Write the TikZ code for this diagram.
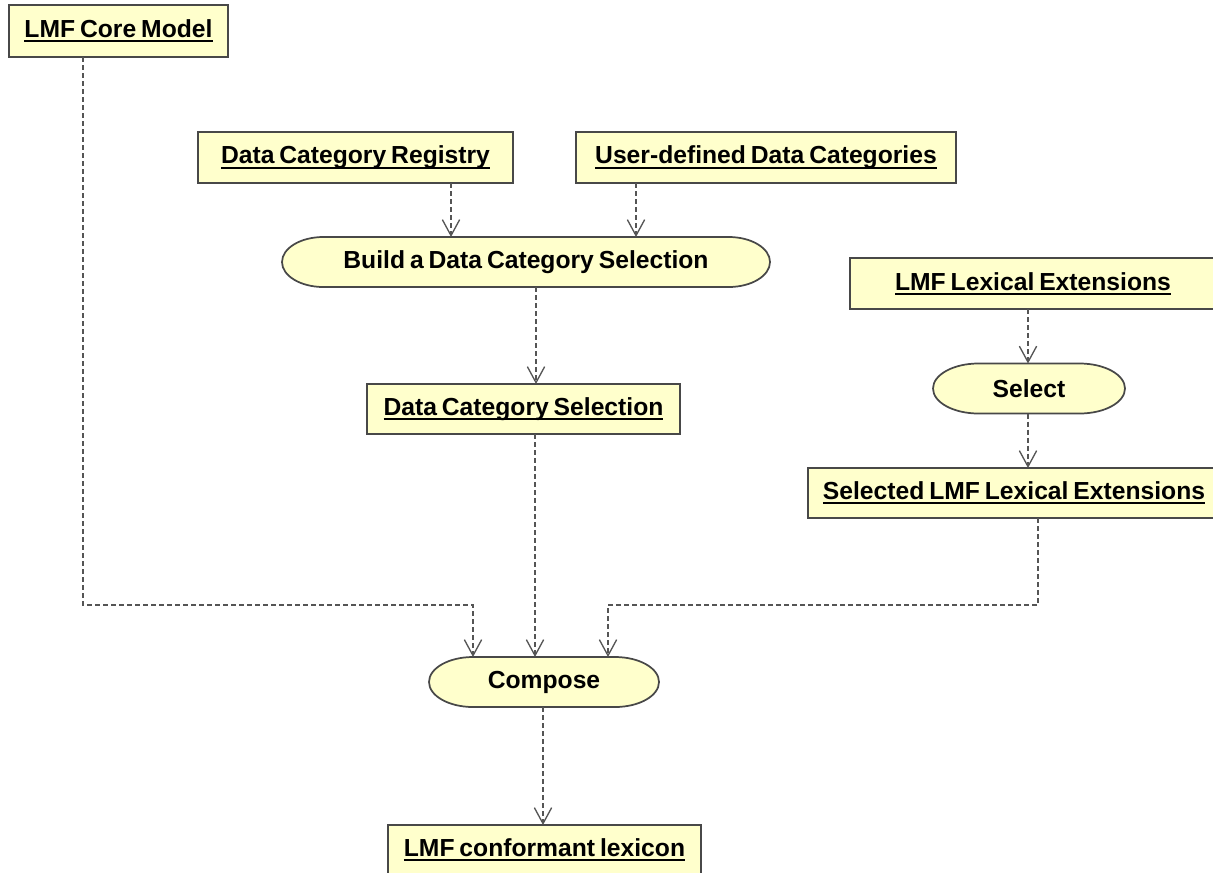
\documentclass[tikz,border=0pt]{standalone}
\usepackage{fontspec}
\setmainfont{Liberation Sans}
\usetikzlibrary{arrows.meta,calc,backgrounds}

\definecolor{boxfill}{RGB}{255,255,204}
\definecolor{boxline}{RGB}{72,72,72}
\definecolor{flowline}{RGB}{85,85,85}

% underlined bold label, as used for object boxes
\newcommand\objlabel[1]{\setbox0\hbox{#1}\rlap{\rule[-3.6pt]{\wd0}{1.5pt}}\box0}
\newcommand\tightspace{\spaceskip=0.2em\relax}

% rounded activity outline behind a node: name, end radius
\newcommand\actoutline[2]{%
  \begin{pgfonlayer}{background}
    \draw[actline] ([xshift=#2]#1.north west) -- ([xshift=-#2]#1.north east)
      arc[start angle=90,end angle=-90,x radius=#2,y radius=18.75pt]
      -- ([xshift=#2]#1.south west)
      arc[start angle=270,end angle=90,x radius=#2,y radius=18.75pt] -- cycle;
  \end{pgfonlayer}}

\tikzset{
  lbl/.style={font=\bfseries\fontsize{18.5}{21}\selectfont, text=black,
    execute at begin node=\tightspace},
  objbox/.style={lbl, draw=boxline, line width=1.3pt, fill=boxfill,
    rectangle, inner sep=0pt, outer sep=0pt, minimum height=38pt},
  actnode/.style={lbl, draw=none, rectangle, inner sep=0pt, outer sep=0pt,
    minimum height=37.5pt},
  actline/.style={draw=boxline, line width=1.3pt, fill=boxfill},
  flow/.style={draw=flowline, line width=1pt, dash pattern=on 3.75pt off 2.25pt,
    -{Straight Barb[length=12pt,width=13pt,line width=1pt]}},
}

\begin{document}
\begin{tikzpicture}[x=0.75pt,y=0.75pt]
\useasboundingbox (0,0) rectangle (1213,-872);
\clip (0,0) rectangle (1213,-872);

% object boxes
\node[objbox, minimum width=219*0.75pt, minimum height=52*0.75pt] (core) at (118.5,-31) {\objlabel{LMF Core Model}};
\node[objbox, minimum width=315*0.75pt, minimum height=51*0.75pt] (dcr) at (355.5,-157.5) {\objlabel{Data Category Registry}};
\node[objbox, minimum width=380*0.75pt, minimum height=51*0.75pt] (udc) at (766,-157.5) {\objlabel{User-defined Data Categories}};
\node[objbox, minimum width=313*0.75pt, minimum height=50*0.75pt] (dcs) at (523.5,-409) {\objlabel{Data Category Selection}};
\node[objbox, minimum width=366*0.75pt, minimum height=51*0.75pt] (lex) at (1033,-283.5) {\objlabel{LMF Lexical Extensions}};
\node[objbox, minimum width=412*0.75pt, minimum height=50*0.75pt] (sel) at (1014,-493) {\objlabel{Selected LMF Lexical Extensions}};
\node[objbox, minimum width=313*0.75pt, minimum height=50*0.75pt] (lexicon) at (544.5,-850) {\objlabel{LMF conformant lexicon}};

% activities
\node[actnode, minimum width=488*0.75pt] (build) at (526,-262) {Build a Data Category Selection};
\actoutline{build}{31pt}
\node[actnode, minimum width=192*0.75pt] (select) at (1029,-388.5) {Select};
\actoutline{select}{34pt}
\node[actnode, minimum width=230*0.75pt] (compose) at (544,-682) {Compose};
\actoutline{compose}{33pt}

% flows
\draw[flow] ($(dcr.south)+(95.5,0)$) -- ($(build.north)+(-75,0)$);
\draw[flow] ($(udc.south)+(-130,0)$) -- ($(build.north)+(110,0)$);
\draw[flow] ($(build.south)+(10,0)$) -- ($(dcs.north)+(12.5,0)$);
\draw[flow] ($(lex.south)+(-5,0)$) -- ($(select.north)+(-1,0)$);
\draw[flow] ($(select.south)+(-1,0)$) -- ($(sel.north)+(14,0)$);
\draw[flow] ($(core.south)+(-35.5,0)$) |- ($(compose.north)+(-71,52)$) -- ($(compose.north)+(-71,0)$);
\draw[flow] ($(dcs.south)+(11.5,0)$) -- ($(compose.north)+(-9,0)$);
\draw[flow] ($(sel.south)+(24,0)$) |- ($(compose.north)+(64,52)$) -- ($(compose.north)+(64,0)$);
\draw[flow] ($(compose.south)+(-1,0)$) -- ($(lexicon.north)+(-1.5,0)$);
\end{tikzpicture}
\end{document}
